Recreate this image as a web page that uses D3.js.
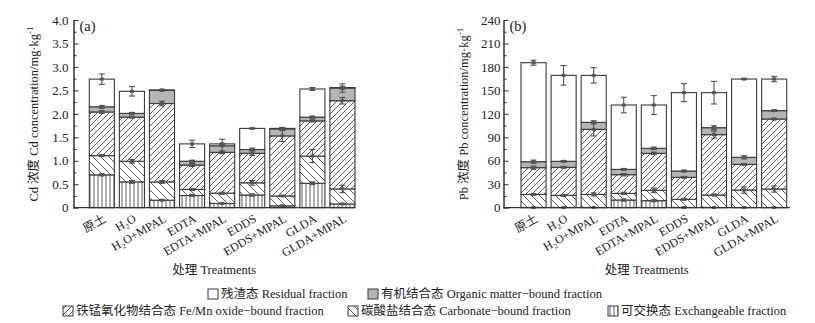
<!DOCTYPE html>
<html><head><meta charset="utf-8">
<script src="https://cdn.jsdelivr.net/npm/d3@7"></script>
<style>
body{margin:0;background:#fff;}
svg text{font-family:"Liberation Serif","Times New Roman",serif;fill:#222;}
.cjk{font-family:"Noto Sans CJK SC",sans-serif;}
.lat{font-family:"Liberation Serif","Times New Roman",serif;}
</style></head>
<body><svg id="c" width="815" height="323"></svg>
<script>
// ---------- data ----------
const categories = ["原土","H₂O","H₂O+MPAL","EDTA","EDTA+MPAL","EDDS","EDDS+MPAL","GLDA","GLDA+MPAL"];
const fractionKeys = ["exch","carb","femn","org","res"];

// Cd (mg/kg), fraction values per treatment
const cdExch = [0.70, 0.55, 0.16, 0.26, 0.09, 0.27, 0.04, 0.52, 0.08];
const cdCarb = [0.41, 0.44, 0.39, 0.13, 0.22, 0.26, 0.21, 0.58, 0.32];
const cdFeMn = [0.93, 0.94, 1.67, 0.52, 0.87, 0.63, 1.28, 0.75, 1.88];
const cdOrg  = [0.11, 0.08, 0.28, 0.08, 0.14, 0.08, 0.15, 0.08, 0.27];
const cdRes  = [0.59, 0.47, 0.01, 0.37, 0.04, 0.45, 0.01, 0.60, 0.01];
const cdExchErr = [0.02, 0.03, 0.01, 0.02, 0.01, 0.02, 0.01, 0.03, 0.01];
const cdCarbErr = [0.02, 0.04, 0.03, 0.02, 0.02, 0.05, 0.01, 0.14, 0.08];
const cdFeMnErr = [0.03, 0.02, 0.05, 0.03, 0.03, 0.05, 0.12, 0.02, 0.07];
const cdOrgErr  = [0.03, 0.02, 0.01, 0.02, 0.14, 0.03, 0.03, 0.02, 0.09];
const cdResErr  = [0.11, 0.10, 0.01, 0.08, 0.01, 0.01, 0.01, 0.03, 0.03];
const cdTicks = [0, 0.5, 1.0, 1.5, 2.0, 2.5, 3.0, 3.5, 4.0];
const cdMinor = [0.25, 0.75, 1.25, 1.75, 2.25, 2.75, 3.25, 3.75];

// Pb (mg/kg)
const pbExch = [0.3, 0.3, 0.3, 9.8, 9.0, 0.3, 0.3, 0.3, 0.3];
const pbCarb = [16.7, 15.5, 16.7, 8.5, 13.2, 10.4, 15.9, 22.3, 23.6];
const pbFeMn = [34.2, 35.8, 83.2, 23.9, 47.3, 28.1, 77.2, 32.8, 89.5];
const pbOrg  = [7.6, 7.7, 8.9, 6.8, 6.4, 8.1, 8.9, 9.0, 10.7];
const pbRes  = [126.6, 109.9, 60.1, 82.3, 55.4, 100.2, 44.8, 100.1, 40.4];
const pbExchErr = [0, 0, 0, 1.2, 1.2, 0, 0, 0, 0];
const pbCarbErr = [1, 1, 2, 1.5, 3, 1, 1, 4, 4];
const pbFeMnErr = [2, 1, 8.5, 1.5, 1.5, 1, 4.5, 1, 1];
const pbOrgErr  = [2, 1, 2, 1, 1.5, 1, 2.5, 2, 1];
const pbResErr  = [3.2, 12.5, 9.8, 10, 12, 11.5, 14.5, 0.6, 3.4];
const pbTicks = [0, 30, 60, 90, 120, 150, 180, 210, 240];
const pbMinor = [15, 45, 75, 105, 135, 165, 195, 225];

const legendLabels = {
  res: "残渣态 Residual fraction",
  org: "有机结合态 Organic matter−bound fraction",
  femn: "铁锰氧化物结合态 Fe/Mn oxide−bound fraction",
  carb: "碳酸盐结合态 Carbonate−bound fraction",
  exch: "可交换态 Exchangeable fraction"
};

// ---------- drawing ----------
const svg = d3.select("#c");
const LINE = "#3a3a3a";
const defs = svg.append("defs");
function pat(id, w, d){
  const p = defs.append("pattern").attr("id", id).attr("patternUnits","userSpaceOnUse")
    .attr("width", w).attr("height", w);
  p.append("rect").attr("width", w).attr("height", w).attr("fill","#fff");
  p.append("path").attr("d", d).attr("stroke", "#333").attr("stroke-width", 0.8).attr("fill","none");
}
pat("pFemn", 6, "M0,6 L6,0 M-1.5,1.5 L1.5,-1.5 M4.5,7.5 L7.5,4.5");
pat("pCarb", 8, "M0,0 L8,8 M-2,6 L2,10 M6,-2 L10,2");
pat("pExch", 4, "M2,0 L2,4");
const fills = {exch:"url(#pExch)", carb:"url(#pCarb)", femn:"url(#pFemn)", org:"#b5b5b5", res:"#ffffff"};

// write mixed CJK / Latin text as separate tspans so each script gets its own font
function mixed(sel, str){
  const parts = str.match(/[\u3000-\u9fff]+|[^\u3000-\u9fff]+/g) || [];
  parts.forEach(p=>{
    sel.append("tspan").attr("class", /[\u3000-\u9fff]/.test(p) ? "cjk" : "lat").text(p);
  });
  return sel;
}

function panel(o){
  const rows = categories.map((c,i)=>({cat:c, exch:o.exch[i], carb:o.carb[i], femn:o.femn[i], org:o.org[i], res:o.res[i]}));
  const errs = {exch:o.exchErr, carb:o.carbErr, femn:o.femnErr, org:o.orgErr, res:o.resErr};
  const stack = d3.stack().keys(fractionKeys)(rows);
  const y = d3.scaleLinear().domain([0, o.ymax]).range([207.7, 20]);
  const x = d3.scaleBand().domain(categories).range([o.barStart, o.barEnd]).paddingInner(1/6).paddingOuter(0);
  const g = svg.append("g");

  stack.forEach(layer=>{
    g.append("g").selectAll("rect").data(layer).join("rect")
      .attr("x", d=>x(d.data.cat)).attr("width", x.bandwidth())
      .attr("y", d=>y(d[1])).attr("height", d=>Math.max(0, y(d[0])-y(d[1])))
      .attr("fill", fills[layer.key]).attr("stroke", LINE).attr("stroke-width", 1.1);
  });
  stack.forEach(layer=>{
    const e = errs[layer.key];
    const eg = g.append("g");
    layer.forEach((d,i)=>{
      const cx = x(d.data.cat) + x.bandwidth()/2;
      const top = d[1], s = e[i];
      if (s > 0){
        eg.append("line").attr("x1",cx).attr("x2",cx).attr("y1",y(top+s)).attr("y2",y(top-s)).attr("stroke","#444").attr("stroke-width",1);
        [top+s, top-s].forEach(v=>eg.append("line").attr("x1",cx-3).attr("x2",cx+3).attr("y1",y(v)).attr("y2",y(v)).attr("stroke","#444").attr("stroke-width",1));
      }
      if (layer.key !== "res" || s > 0)
        eg.append("rect").attr("x",cx-2).attr("y",y(top)-1.5).attr("width",4).attr("height",3).attr("fill","#555");
    });
  });

  const ya = d3.axisLeft(y).tickValues(o.ticks).tickFormat(o.fmt).tickSizeInner(-5).tickSizeOuter(0).tickPadding(o.pad);
  const ag = svg.append("g").attr("transform",`translate(${o.axisX},0)`).call(ya);
  ag.attr("font-family",null);
  ag.selectAll("text").style("font-size","13px").attr("fill","#222");
  ag.selectAll("line,path").attr("stroke","#333");
  const ym = d3.axisLeft(y).tickValues(o.minor).tickFormat("").tickSizeInner(-3).tickSizeOuter(0);
  const mg = svg.append("g").attr("transform",`translate(${o.axisX},0)`).call(ym);
  mg.selectAll("line,path").attr("stroke","#333");
  svg.append("line").attr("x1",o.axisX).attr("x2",o.axisEnd).attr("y1",y(0)).attr("y2",y(0)).attr("stroke","#333").attr("stroke-width",1.2);

  svg.append("g").selectAll("text").data(categories).join("text")
    .attr("transform", c=>`translate(${x(c)+x.bandwidth()/2+5},221) rotate(-30)`)
    .attr("text-anchor","end").style("font-size","12px")
    .each(function(c){ mixed(d3.select(this), c); });

  mixed(svg.append("text").attr("x",(o.axisX+o.axisEnd)/2).attr("y",274).attr("text-anchor","middle")
    .style("font-size","12.5px"), "处理 Treatments");
  const yl = svg.append("text").attr("transform",`translate(${o.labelX},114) rotate(-90)`)
    .attr("text-anchor","middle").style("font-size","12.5px");
  mixed(yl, o.ylabel);
  yl.append("tspan").attr("class","lat").attr("dy",-5).style("font-size","9px").text("-1");
  svg.append("text").attr("x",o.axisX+6).attr("y",31).style("font-size","14.5px").text(o.tag);
}

panel({exch:cdExch, carb:cdCarb, femn:cdFeMn, org:cdOrg, res:cdRes,
  exchErr:cdExchErr, carbErr:cdCarbErr, femnErr:cdFeMnErr, orgErr:cdOrgErr, resErr:cdResErr,
  ymax:4, ticks:cdTicks, minor:cdMinor, fmt:d=>d===0?"0":d3.format(".1f")(d), pad:5,
  axisX:73.5, axisEnd:355, barStart:89.3, barEnd:355, labelX:38,
  ylabel:"Cd 浓度 Cd concentration/mg·kg", tag:"(a)"});
panel({exch:pbExch, carb:pbCarb, femn:pbFeMn, org:pbOrg, res:pbRes,
  exchErr:pbExchErr, carbErr:pbCarbErr, femnErr:pbFeMnErr, orgErr:pbOrgErr, resErr:pbResErr,
  ymax:240, ticks:pbTicks, minor:pbMinor, fmt:d3.format("d"), pad:3,
  axisX:503.5, axisEnd:790, barStart:521, barEnd:786.7, labelX:468,
  ylabel:"Pb 浓度 Pb concentration/mg·kg", tag:"(b)"});

const legendItems = [
  {key:"res", x:208, y:294}, {key:"org", x:368, y:294},
  {key:"femn", x:63, y:311}, {key:"carb", x:348, y:311}, {key:"exch", x:608, y:311}
];
const lg = svg.append("g");
legendItems.forEach(it=>{
  lg.append("rect").attr("x",it.x).attr("y",it.y-5).attr("width",10).attr("height",10)
    .attr("fill",fills[it.key]).attr("stroke",LINE).attr("stroke-width",1);
  mixed(lg.append("text").attr("x",it.x+13).attr("y",it.y+4.3).style("font-size","12.5px"), legendLabels[it.key]);
});
</script></body></html>
